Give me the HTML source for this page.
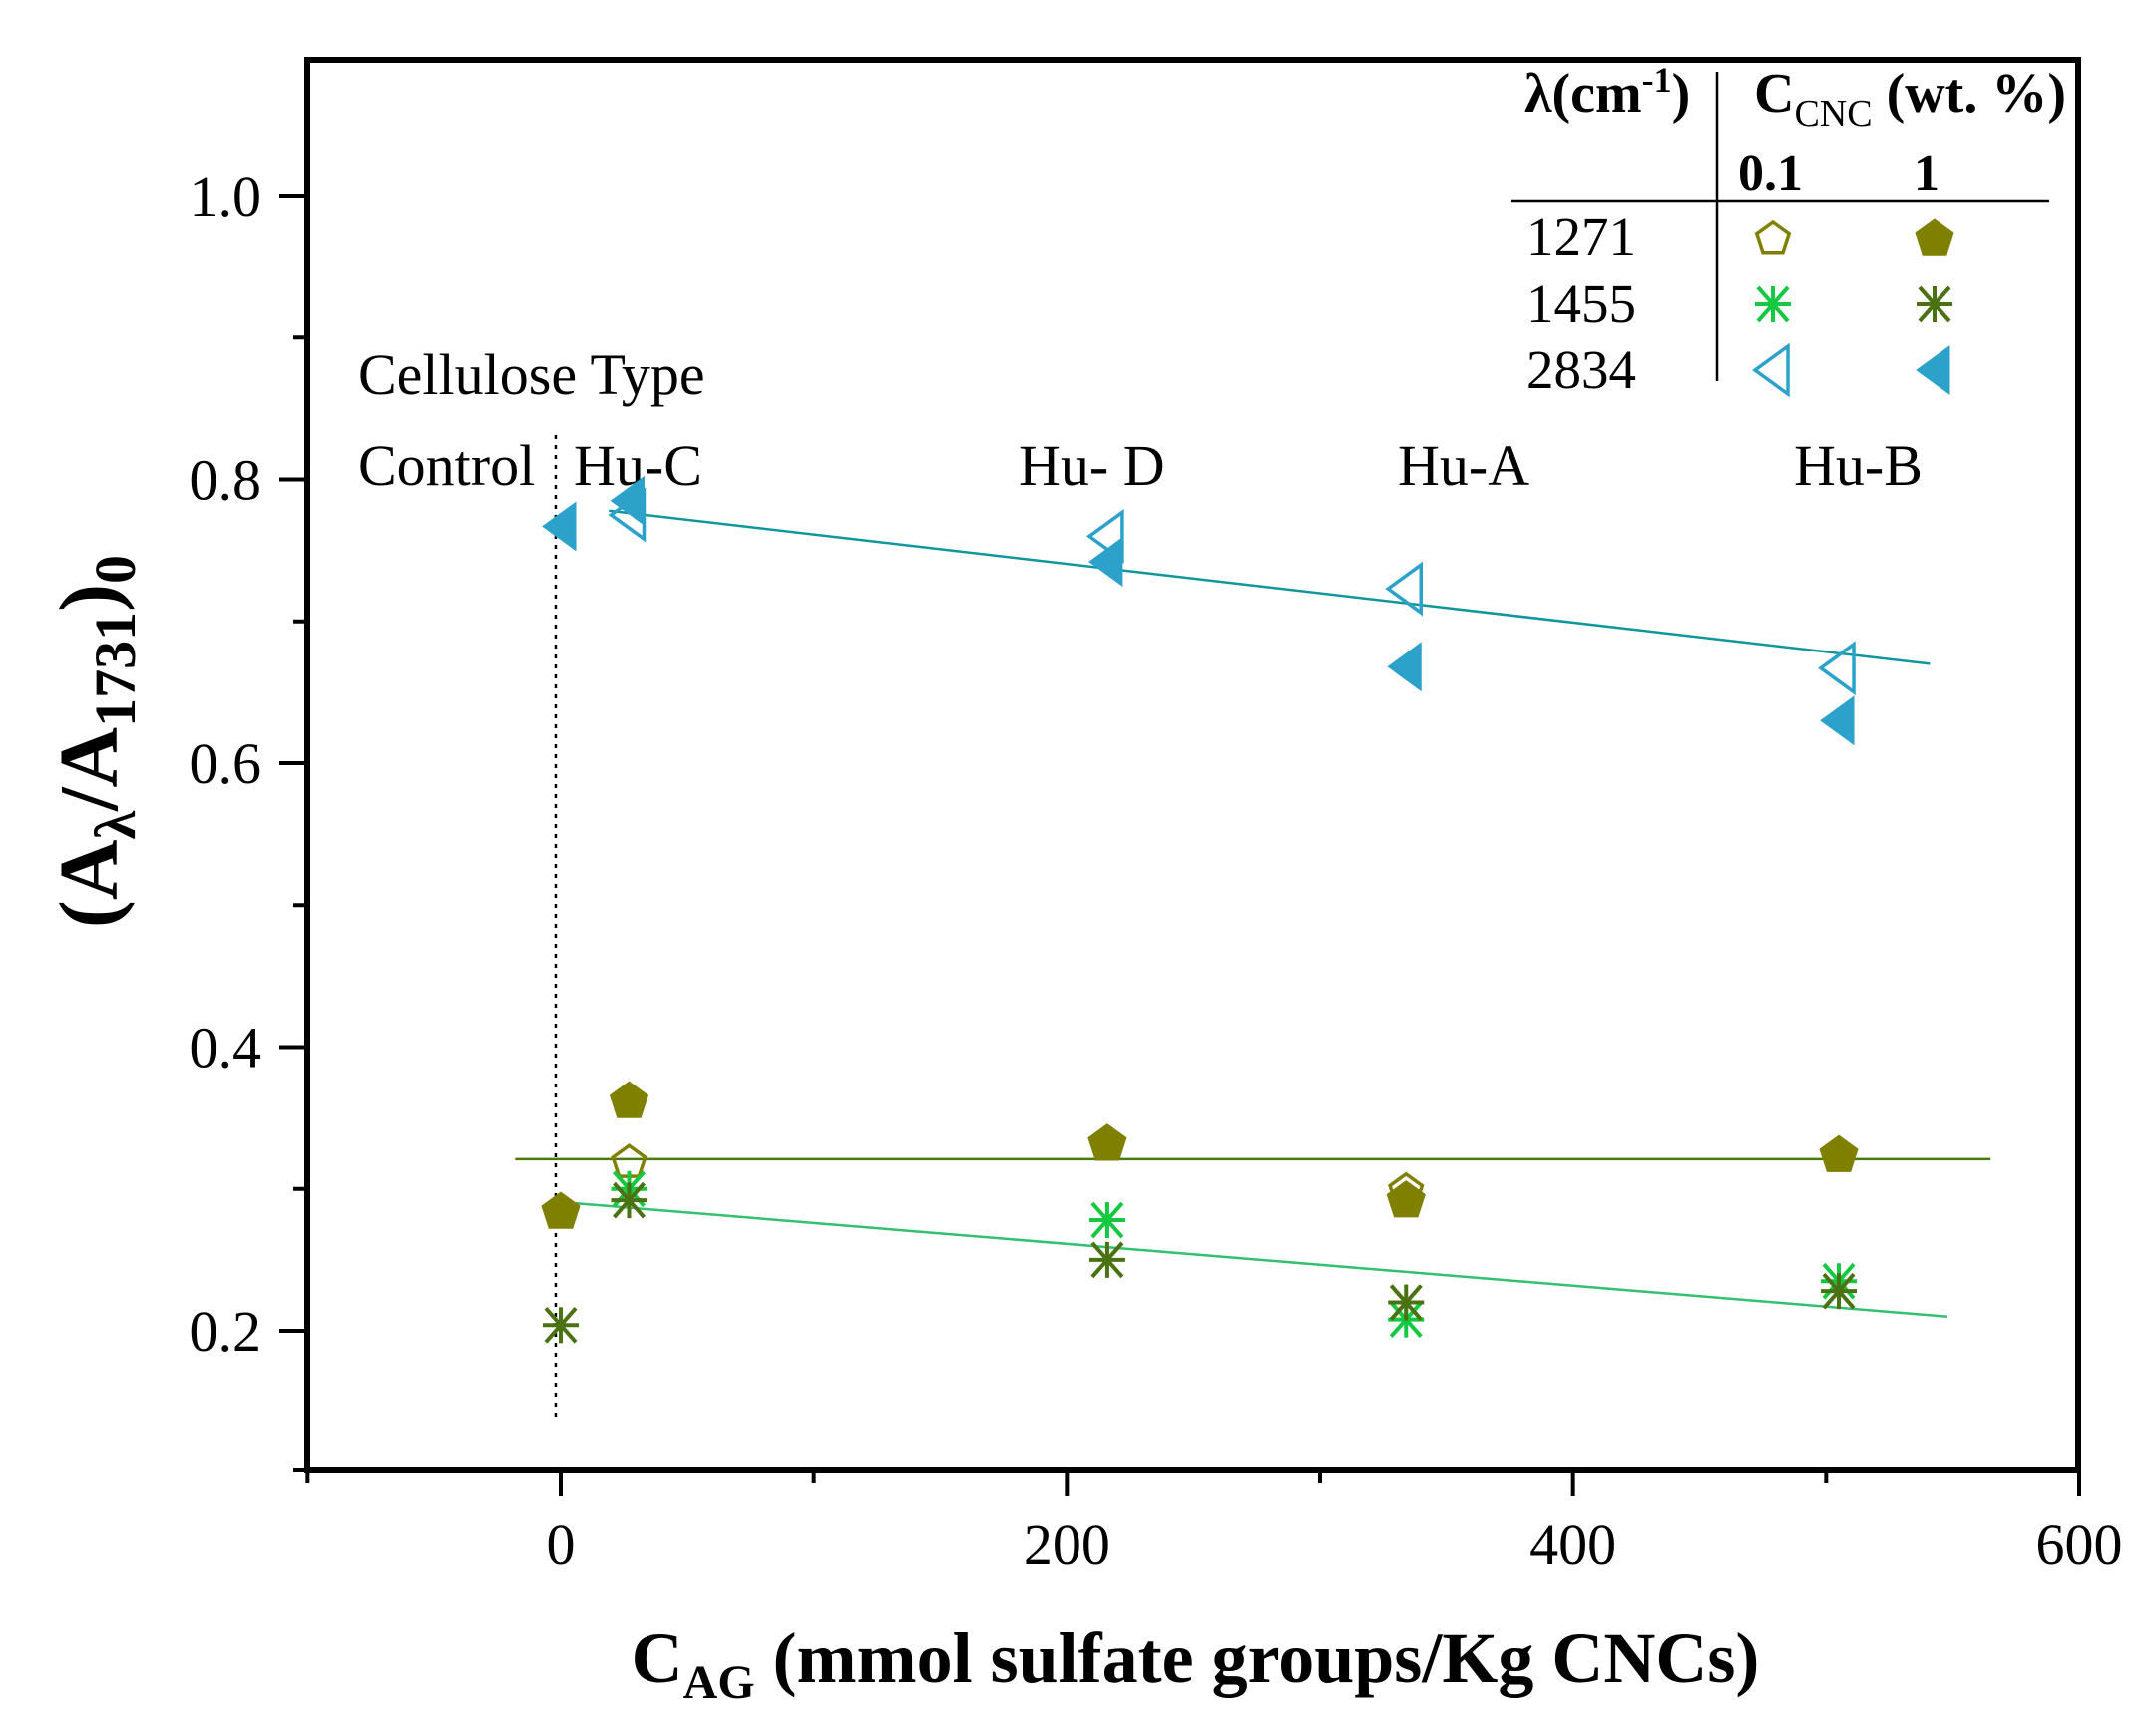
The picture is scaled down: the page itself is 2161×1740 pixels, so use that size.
<!DOCTYPE html>
<html><head><meta charset="utf-8"><style>
html,body{margin:0;padding:0;background:#fff}
svg{display:block;font-family:"Liberation Serif",serif}
</style></head><body>
<svg id="chart" width="2161" height="1740" viewBox="0 0 2161 1740" xmlns="http://www.w3.org/2000/svg">
<g id="axes"></g>
<g id="marks"></g>
<g id="legend"></g>
</svg>
<script>
const xCats = [0, 27, 216, 334, 505];
const catLabels = ["Control","Hu-C","Hu- D","Hu-A","Hu-B"];
const s1271_01 = [null, 0.320, 0.333, 0.300, 0.325];
const s1271_1  = [0.285, 0.363, 0.333, 0.293, 0.325];
const s1455_01 = [null, 0.300, 0.278, 0.208, 0.235];
const s1455_1  = [0.204, 0.292, 0.250, 0.220, 0.228];
const s2834_01 = [null, 0.775, 0.760, 0.723, 0.667];
const s2834_1  = [0.767, 0.785, 0.742, 0.668, 0.630];
const fitCyanX = [19, 541]; const fitCyanY = [0.778, 0.670];
const fitOliveX = [-18, 565]; const fitOliveY = [0.321, 0.321];
const fitGreenX = [5, 548]; const fitGreenY = [0.290, 0.210];
const xTicks = [0, 200, 400, 600];
const xMinor = [-100, 100, 300, 500];
const yTicks = [0.2, 0.4, 0.6, 0.8, 1.0];
const yMinor = [0.3, 0.5, 0.7, 0.9];

const NS="http://www.w3.org/2000/svg";
const L=308,R=2083,T=60,B=1473;
function sx(v){return 562+(v-0)*(2084-562)/600;}
function sy(v){return 1334-(v-0.2)*(1334-196)/0.8;}
function mk(tag,attrs,parent,text){const e=document.createElementNS(NS,tag);for(const k in attrs)e.setAttribute(k,attrs[k]);if(text!==undefined)e.textContent=text;parent.appendChild(e);return e;}
const axes=document.getElementById('axes'),marks=document.getElementById('marks'),legend=document.getElementById('legend');

let fr=mk('rect',{x:L,y:T,width:R-L,height:B-T,fill:'none',stroke:'#000','stroke-width':6},axes);


yTicks.forEach(v=>{
 let t=mk('line',{x1:280,x2:L,y1:sy(v),y2:sy(v),stroke:'#000','stroke-width':4},axes);
 
 
 let tx=mk('text',{x:262,y:sy(v)+20,'font-size':58,'text-anchor':'end'},axes,v.toFixed(1));
 
 
});
yMinor.forEach(v=>{
 let t=mk('line',{x1:294,x2:L,y1:sy(v),y2:sy(v),stroke:'#000','stroke-width':4},axes);
 
 
});
mk('line',{x1:294,x2:L,y1:B,y2:B,stroke:'#000','stroke-width':4},axes);
xTicks.forEach(v=>{
 let t=mk('line',{x1:sx(v),x2:sx(v),y1:B,y2:B+26,stroke:'#000','stroke-width':4},axes);
 
 
 let tx=mk('text',{x:sx(v),y:1568,'font-size':58,'text-anchor':'middle'},axes,String(v));
 
 
});
xMinor.forEach(v=>{
 let t=mk('line',{x1:sx(v),x2:sx(v),y1:B,y2:B+13,stroke:'#000','stroke-width':4},axes);
 
 
});
// axis titles
let xt=mk('text',{x:1198,y:1686,'font-size':72,'font-weight':'bold','text-anchor':'middle'},axes);


xt.innerHTML='C<tspan dy="16" font-size="48">AG</tspan><tspan dy="-16"> (mmol sulfate groups/Kg CNCs)</tspan>';
let yt=mk('text',{transform:'translate(117,743) rotate(-90)','font-size':84,'font-weight':'bold','text-anchor':'middle'},axes);


yt.innerHTML='(A<tspan dy="18" font-size="58">λ</tspan><tspan dy="-18">/A</tspan><tspan dy="18" font-size="58">1731</tspan><tspan dy="-18">)</tspan><tspan dy="18" font-size="58">0</tspan>';

// annotations
let ct=mk('text',{x:359,y:395,'font-size':58},axes,'Cellulose Type');


const catX=[359,575,1021,1401,1798];
catLabels.forEach((s,i)=>{
 let t=mk('text',{x:catX[i],y:486,'font-size':58},axes,s);
 
 
});
let dl=mk('line',{x1:sx(-2),x2:sx(-2),y1:436,y2:1422,stroke:'#000','stroke-width':2.5,'stroke-dasharray':'4,6'},axes);



// fit lines
function fit(xs,ys,col,name){
 let l=mk('line',{x1:sx(xs[0]),y1:sy(ys[0]),x2:sx(xs[1]),y2:sy(ys[1]),stroke:col,'stroke-width':2.5},marks);
 
 
}
fit(fitOliveX,fitOliveY,'#4a7a0a','fit-line-1271');
fit(fitGreenX,fitGreenY,'#33c070','fit-line-1455');
fit(fitCyanX,fitCyanY,'#10979e','fit-line-2834');

function pent(cx,cy,r){let p=[];for(let i=0;i<5;i++){let a=-Math.PI/2+i*2*Math.PI/5;p.push((cx+r*Math.cos(a)).toFixed(1)+','+(cy+r*Math.sin(a)).toFixed(1));}return p.join(' ');}
function drawMarker(g,type,cx,cy,filled,col){
 if(type==='pent'){
  return mk('polygon',{points:pent(cx,cy+2,filled?20:17),fill:filled?col:'none',stroke:col,'stroke-width':filled?1:3.5},g);
 } else if(type==='tri'){
  return mk('polygon',{points:`${cx-18},${cy} ${cx+15},${cy-24} ${cx+15},${cy+24}`,fill:filled?col:'none',stroke:col,'stroke-width':filled?1:3.5},g);
 } else {
  const gg=mk('g',{stroke:col,'stroke-width':4},g);
  mk('line',{x1:cx-18,y1:cy,x2:cx+18,y2:cy},gg);
  mk('line',{x1:cx,y1:cy-18,x2:cx,y2:cy+18},gg);
  mk('line',{x1:cx-15,y1:cy-17,x2:cx+15,y2:cy+17},gg);
  mk('line',{x1:cx-15,y1:cy+17,x2:cx+15,y2:cy-17},gg);
  return gg;
 }
}
function series(vals,type,filled,col,name){
 vals.forEach((v,i)=>{
  if(v===null)return;
  let m=drawMarker(marks,type,sx(xCats[i]),sy(v),filled,col);
  
  
 });
}
const OLIVE='#808000',GREEN='#14c841',DGREEN='#4b7212',CYAN='#2ca2cb';
series(s2834_01,'tri',false,CYAN,'point-2834-0.1');
series(s2834_1,'tri',true,CYAN,'point-2834-1');
series(s1271_01,'pent',false,OLIVE,'point-1271-0.1');
series(s1271_1,'pent',true,OLIVE,'point-1271-1');
series(s1455_01,'star',false,GREEN,'point-1455-0.1');
series(s1455_1,'star',false,DGREEN,'point-1455-1');

// legend
let h1=mk('text',{x:1528,y:112,'font-size':56,'font-weight':'bold'},legend);


h1.innerHTML='λ(cm<tspan dy="-20" font-size="36">-1</tspan><tspan dy="20">)</tspan>';
let h2=mk('text',{x:1758,y:112,'font-size':56,'font-weight':'bold'},legend);


h2.innerHTML='C<tspan dy="14" font-size="38" font-weight="normal">CNC</tspan><tspan dy="-14"> (wt. %)</tspan>';
let c1=mk('text',{x:1742,y:190,'font-size':52,'font-weight':'bold'},legend,'0.1');


let c2=mk('text',{x:1918,y:190,'font-size':52,'font-weight':'bold'},legend,'1');


mk('line',{x1:1721,x2:1721,y1:72,y2:382,stroke:'#000','stroke-width':2.5},legend);
mk('line',{x1:1515,x2:2054,y1:201,y2:201,stroke:'#000','stroke-width':2.5},legend);
const legRows=[['1271','pent',OLIVE,OLIVE,true],['1455','star',GREEN,DGREEN,false],['2834','tri',CYAN,CYAN,true]];
const legY=[238,305,371];
legRows.forEach((r,i)=>{
 let t=mk('text',{x:1530,y:legY[i]+18,'font-size':55},legend,r[0]);
 
 
 let a=drawMarker(legend,r[1],1777,legY[i],false,r[2]);
 
 
 let b=drawMarker(legend,r[1],1939,legY[i],r[4],r[3]);
 
 
});
</script>
</body></html>
